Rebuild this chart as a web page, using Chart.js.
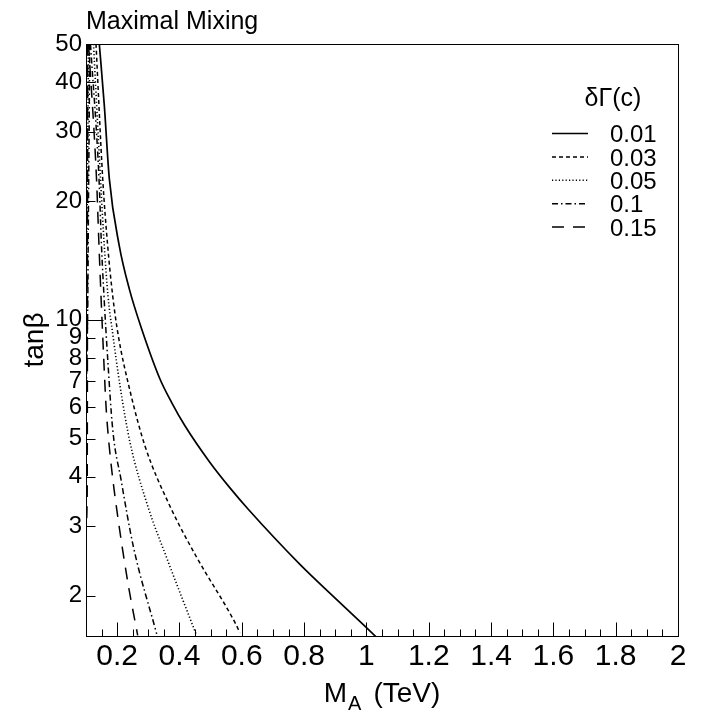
<!DOCTYPE html>
<html>
<head>
<meta charset="utf-8">
<script src="https://cdn.jsdelivr.net/npm/chart.js@4/dist/chart.umd.min.js"></script>
<style>
  html, body { margin: 0; padding: 0; background: #fff; }
  #wrap { width: 702px; height: 715px; }
</style>
</head>
<body>
<div id="wrap"><canvas id="c" width="702" height="715"></canvas></div>
<script>
// ---------- data ----------
const chartTitle = 'Maximal Mixing';
const legendTitle = 'δΓ(c)';
const seriesLabels = ['0.01', '0.03', '0.05', '0.1', '0.15'];

// main branches
const mA_001 = [0.1427, 0.1587, 0.1748, 0.2068, 0.2389, 0.2787, 0.3374, 0.375, 0.418, 0.4978, 0.562, 0.6207, 0.7866, 0.9149, 1.030];
const tb_001 = [50, 35, 22.8, 15.4, 11.98, 9.48, 7.08, 6.17, 5.38, 4.35, 3.75, 3.31, 2.40, 1.92, 1.575];

const mA_003 = [0.1321, 0.1536, 0.1696, 0.1857, 0.2036, 0.2412, 0.2893, 0.3695, 0.4529, 0.578, 0.594];
const tb_003 = [50, 22.8, 15.4, 11.5, 9.12, 6.61, 4.79, 3.37, 2.52, 1.71, 1.61];

const mA_005 = [0.124, 0.1465, 0.1587, 0.1706, 0.1866, 0.2091, 0.2412, 0.2999, 0.3567, 0.4529];
const tb_005 = [50, 22.8, 15.4, 11.5, 9.12, 6.81, 4.89, 3.34, 2.52, 1.60];

const mA_010 = [0.1144, 0.1417, 0.1497, 0.1577, 0.1690, 0.1857, 0.2123, 0.2517, 0.3268];
const tb_010 = [50, 22.8, 15.4, 11.5, 8.11, 5.28, 3.94, 2.67, 1.60];

const mA_015 = [0.1080, 0.1337, 0.1417, 0.1481, 0.1536, 0.1642, 0.1696, 0.1834, 0.2017, 0.2347, 0.2659];
const tb_015 = [50, 22.8, 15.4, 11.5, 9.12, 6.06, 5.28, 4.11, 3.18, 2.15, 1.585];

// secondary branches hugging the low-M_A edge
const mA_005b = [0.108, 0.106, 0.104, 0.1015, 0.0995];
const tb_005b = [50, 30, 20, 14, 12];
const mA_010b = [0.112, 0.110, 0.108, 0.106, 0.103, 0.0995];
const tb_010b = [50, 30, 20, 12, 8, 6];
const mA_015b = [0.1045, 0.1043, 0.1041, 0.1038, 0.1034, 0.103, 0.0995];
const tb_015b = [50, 30, 20, 10, 5, 3.6, 3.0];

const xTickValues = [0.2, 0.4, 0.6, 0.8, 1.0, 1.2, 1.4, 1.6, 1.8, 2.0];
const xTickLabels = ['0.2', '0.4', '0.6', '0.8', '1', '1.2', '1.4', '1.6', '1.8', '2'];
const yTickValues = [2, 3, 4, 5, 6, 7, 8, 9, 10, 20, 30, 40, 50];
const xMin = 0.1, xMax = 2.0, yMin = 1.58, yMax = 50;
const xMinorStep = 0.05;

// ---------- build ----------
function pts(xs, ys) { return xs.map((x, i) => ({ x: x, y: ys[i] })); }
const styles = [
  { dash: [], width: 1.7 },
  { dash: [4, 3], width: 1.5 },
  { dash: [1.2, 2.2], width: 1.6 },
  { dash: [6, 3, 1.5, 3], width: 1.5 },
  { dash: [12, 9], width: 1.5 }
];
const mainX = [mA_001, mA_003, mA_005, mA_010, mA_015];
const mainY = [tb_001, tb_003, tb_005, tb_010, tb_015];
function mkDs(label, xs, ys, st, inLegend) {
  return {
    label: label,
    data: pts(xs, ys),
    borderColor: '#000',
    borderWidth: st.width,
    borderDash: st.dash,
    pointRadius: 0,
    fill: false,
    cubicInterpolationMode: 'monotone',
    inLegend: inLegend
  };
}
const datasets = seriesLabels.map((lab, i) => mkDs(lab, mainX[i], mainY[i], styles[i], true));
datasets.push(mkDs(seriesLabels[2], mA_005b, tb_005b, styles[2], false));
datasets.push(mkDs(seriesLabels[3], mA_010b, tb_010b, styles[3], false));
datasets.push(mkDs(seriesLabels[4], mA_015b, tb_015b, { dash: [12, 9], width: 2 }, false));

const FONT = '"Liberation Sans", Arial, Helvetica, sans-serif';

const overlay = {
  id: 'overlay',
  afterDraw(chart) {
    const ctx = chart.ctx;
    const a = chart.chartArea;
    const xs = chart.scales.x, ys = chart.scales.y;
    ctx.save();
    ctx.strokeStyle = '#000';
    ctx.fillStyle = '#000';
    ctx.setLineDash([]);
    // frame
    ctx.lineWidth = 1;
    ctx.strokeRect(Math.round(a.left) + 0.5, Math.round(a.top) + 0.5,
                   Math.round(a.right - a.left), Math.round(a.bottom - a.top));
    // x ticks (inward)
    ctx.beginPath();
    const bottom = Math.round(a.bottom) + 0.5;
    xTickValues.forEach(v => {
      const px = Math.round(xs.getPixelForValue(v)) + 0.5;
      ctx.moveTo(px, bottom); ctx.lineTo(px, bottom - 14);
    });
    for (let k = 1; xMin + k * xMinorStep < xMax - 1e-9; k++) {
      const v = xMin + k * xMinorStep;
      if (Math.abs(v / 0.2 - Math.round(v / 0.2)) < 1e-6) continue;
      const px = Math.round(xs.getPixelForValue(v)) + 0.5;
      ctx.moveTo(px, bottom); ctx.lineTo(px, bottom - 7);
    }
    // y ticks (inward)
    const left = Math.round(a.left) + 0.5;
    yTickValues.forEach(v => {
      const py = Math.round(ys.getPixelForValue(v)) + 0.5;
      const len = (v === 10) ? 17 : 9;
      ctx.moveTo(left, py); ctx.lineTo(left + len, py);
    });
    ctx.stroke();

    // chart title
    ctx.font = '25px ' + FONT;
    ctx.textAlign = 'left';
    ctx.textBaseline = 'alphabetic';
    ctx.fillText(chartTitle, a.left, 29);

    // x axis title: M_A (TeV)
    const cx = (a.left + a.right) / 2;
    const base = 702;
    ctx.font = '28px ' + FONT;
    const wM = ctx.measureText('M').width;
    const wT = ctx.measureText('(TeV)').width;
    ctx.font = '20px ' + FONT;
    const wA = ctx.measureText('A').width;
    const gap = 12;
    const total = wM + 1 + wA + gap + wT;
    let x0 = cx - total / 2;
    ctx.font = '28px ' + FONT;
    ctx.fillText('M', x0, base);
    ctx.font = '20px ' + FONT;
    ctx.fillText('A', x0 + wM + 1, base + 8);
    ctx.font = '28px ' + FONT;
    ctx.fillText('(TeV)', x0 + wM + 1 + wA + gap, base);

    // y axis title
    ctx.save();
    ctx.translate(43, (a.top + a.bottom) / 2);
    ctx.rotate(-Math.PI / 2);
    ctx.textAlign = 'center';
    ctx.font = '28px ' + FONT;
    ctx.fillText('tanβ', 0, 0);
    ctx.restore();

    // legend
    ctx.font = '25px ' + FONT;
    ctx.textAlign = 'center';
    ctx.fillText(legendTitle, 613, 106);
    ctx.font = '24px ' + FONT;
    ctx.textAlign = 'left';
    ctx.textBaseline = 'middle';
    chart.data.datasets.filter(ds => ds.inLegend).forEach((ds, i) => {
      const y = 133.5 + i * 23.4;
      ctx.beginPath();
      ctx.lineWidth = ds.borderWidth;
      ctx.setLineDash(ds.borderDash || []);
      ctx.moveTo(552, y); ctx.lineTo(588, y);
      ctx.stroke();
      ctx.setLineDash([]);
      ctx.fillText(ds.label, 610, y + 2);
    });
    ctx.restore();
  }
};

new Chart(document.getElementById('c'), {
  type: 'line',
  data: { datasets: datasets },
  options: {
    responsive: false,
    animation: false,
    layout: { padding: { top: 44, right: 24, left: 0, bottom: 0 } },
    plugins: { legend: { display: false }, tooltip: { enabled: false }, title: { display: false } },
    scales: {
      x: {
        type: 'linear',
        min: xMin, max: xMax,
        grid: { display: false, drawTicks: false },
        border: { display: false },
        afterBuildTicks: s => { s.ticks = xTickValues.map(v => ({ value: v })); },
        afterFit: s => { s.height = 79; },
        ticks: {
          autoSkip: false, maxRotation: 0, padding: 3, color: '#000',
          font: { family: FONT, size: 30 },
          callback: (v) => { const i = xTickValues.findIndex(t => Math.abs(t - v) < 1e-9); return i >= 0 ? xTickLabels[i] : ''; }
        }
      },
      y: {
        type: 'logarithmic',
        min: yMin, max: yMax,
        grid: { display: false, drawTicks: false },
        border: { display: false },
        afterBuildTicks: s => { s.ticks = yTickValues.map(v => ({ value: v })); },
        afterFit: s => { s.width = 86; },
        ticks: {
          autoSkip: false, padding: 4, color: '#000',
          font: { family: FONT, size: 24 },
          callback: (v) => String(v)
        }
      }
    }
  },
  plugins: [overlay]
});
</script>
</body>
</html>
